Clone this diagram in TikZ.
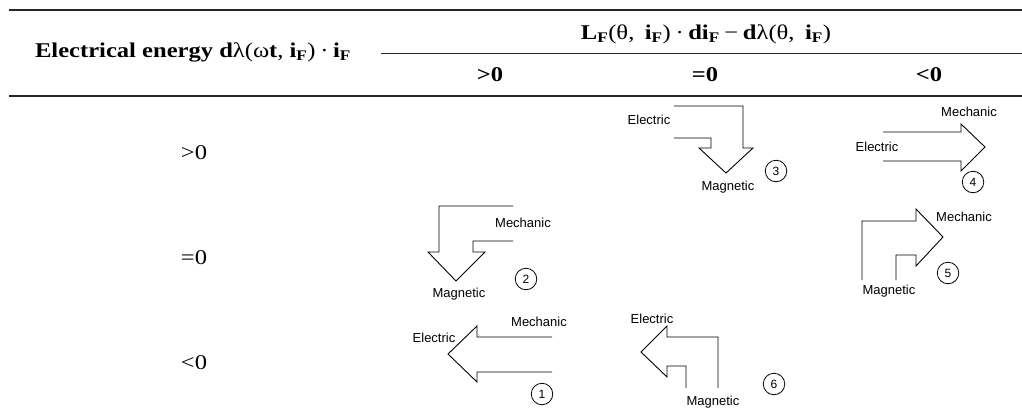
\documentclass[tikz,border=0pt]{standalone}
\usepackage{fontspec}
\setmainfont{Liberation Serif}[FakeStretch=1.17]
\newfontfamily\lblfont{Liberation Sans}
\newcommand{\mysub}[1]{\textsubscript{\bfseries #1}}
\newcommand{\bsp}{\hspace{0.22em}}
\begin{document}
\begin{tikzpicture}[x=1pt,y=-1pt,
  hd/.style={font=\fontsize{21}{25}\selectfont, inner sep=0pt},
  rowlab/.style={font=\fontsize{21}{25}\selectfont, inner sep=0pt},
  lab/.style={font=\lblfont\fontsize{13}{15}\selectfont, inner sep=0pt},
  num/.style={circle, draw, line width=0.8pt, minimum size=21.5pt, inner sep=0pt, font=\lblfont\fontsize{12}{14}\selectfont},
  flow/.style={draw=black, line width=0.9pt, line join=miter},
  toprl/.style={line width=2pt, draw=black!85},
  midrl/.style={line width=1.5pt, draw=black!85},
  cmrl/.style={line width=0.8pt, draw=black!85}]
\useasboundingbox (0,0) rectangle (1022,418);
% rules
\coordinate (t1) at (9,10);   \coordinate (t2) at (1022,10);
\coordinate (c1) at (381,53); \coordinate (c2) at (1022,53);
\coordinate (m1) at (9,96);   \coordinate (m2) at (1022,96);
\draw[toprl] (t1) -- (t2);
\draw[cmrl] (c1) -- (c2);
\draw[midrl] (m1) -- (m2);
% headers
\node[hd] (h1) at (193,52) {\bfseries Electrical energy d\textmd{λ(ω}t\textmd{,} i\mysub{F}\textmd{)}\bsp\textmd{·}\bsp i\mysub{F}};
\node[hd] (h2) at (706,34) {\bfseries L\mysub{F}\textmd{(θ,}\enspace i\mysub{F}\textmd{)}\bsp\textmd{·}\bsp di\mysub{F}\bsp\textmd{−}\bsp d\textmd{λ(θ,}\enspace i\mysub{F}\textmd{)}};
\node[hd] (cA) at (490,75) {\bfseries >0};
\node[hd] (cB) at (705,75) {\bfseries =0};
\node[hd] (cC) at (929,75) {\bfseries <0};
% row labels
\node[rowlab] (rA) at (194,153) {>0};
\node[rowlab] (rB) at (194,258) {=0};
\node[rowlab] (rC) at (194,363) {<0};
% arrow 3: Electric -> Magnetic
\draw[flow] (674,106) -- (743,106) -- (743,148) -- (753,148) -- (726,173) -- (699,148) -- (711,148) -- (711,138) -- (674,138);
\node[lab] (e3) at (649,120) {Electric};
\node[lab] (g3) at (728,187) {Magnetic};
\node[num] (n3) at (776,171) {3};
% arrow 4: Electric -> Mechanic
\draw[flow] (883,132) -- (961,132) -- (961,124) -- (985,147) -- (961,171) -- (961,161) -- (883,161);
\node[lab] (e4) at (877,147) {Electric};
\node[lab] (k4) at (969,112) {Mechanic};
\node[num] (n4) at (973,182) {4};
% arrow 2: Mechanic -> Magnetic
\draw[flow] (513,206) -- (439,206) -- (439,252) -- (428,252) -- (456,281) -- (485,252) -- (473,252) -- (473,241) -- (513,241);
\node[lab] (k2) at (523,223) {Mechanic};
\node[lab] (g2) at (459,294) {Magnetic};
\node[num] (n2) at (526,279) {2};
% arrow 5: Magnetic -> Mechanic
\draw[flow] (862,280) -- (862,221) -- (916,221) -- (916,209) -- (943,237) -- (916,266) -- (916,255) -- (896,255) -- (896,280);
\node[lab] (k5) at (964,217) {Mechanic};
\node[lab] (g5) at (889,291) {Magnetic};
\node[num] (n5) at (948,273) {5};
% arrow 1: Mechanic -> Electric
\draw[flow] (552,337) -- (477,337) -- (477,326) -- (448,354) -- (477,382) -- (477,372) -- (552,372);
\node[lab] (k1) at (539,322) {Mechanic};
\node[lab] (e1) at (434,338) {Electric};
\node[num] (n1) at (542,394) {1};
% arrow 6: Magnetic -> Electric
\draw[flow] (718,388) -- (718,337) -- (667,337) -- (667,326) -- (641,352) -- (667,377) -- (667,366) -- (686,366) -- (686,388);
\node[lab] (e6) at (652,319) {Electric};
\node[lab] (g6) at (713,402) {Magnetic};
\node[num] (n6) at (774,384) {6};
\end{tikzpicture}
\end{document}
